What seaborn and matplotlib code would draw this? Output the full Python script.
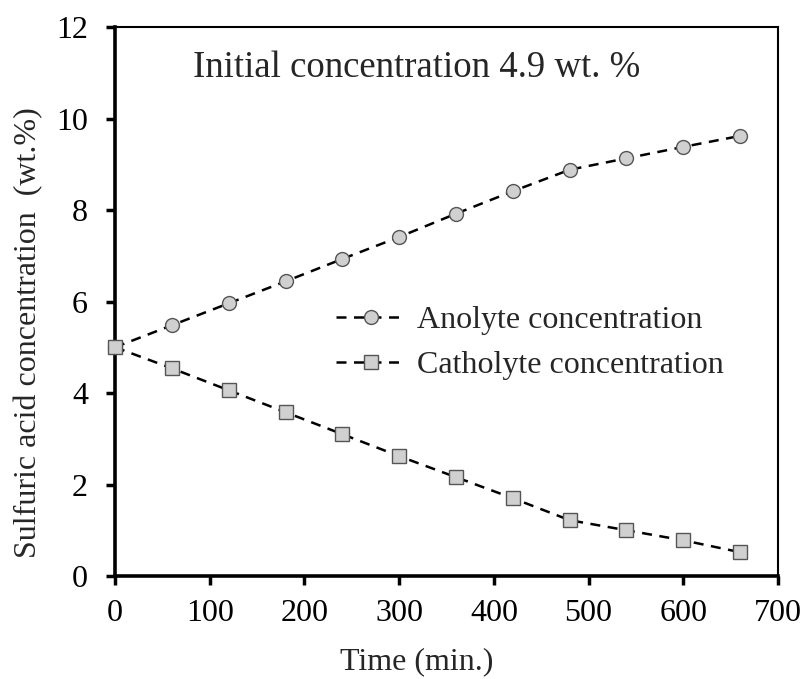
import matplotlib
matplotlib.use("Agg")
import matplotlib.pyplot as plt
import seaborn as sns
import pandas as pd

time_min = [0, 60, 120, 180, 240, 300, 360, 420, 480, 540, 600, 660]
anolyte = [5.0, 5.48, 5.96, 6.44, 6.93, 7.41, 7.92, 8.41, 8.88, 9.13, 9.38, 9.62]
catholyte = [5.0, 4.54, 4.06, 3.58, 3.10, 2.62, 2.16, 1.70, 1.22, 1.00, 0.78, 0.52]
series_names = ["Anolyte concentration", "Catholyte concentration"]
x_ticks = [0, 100, 200, 300, 400, 500, 600, 700]
y_ticks = [0, 2, 4, 6, 8, 10, 12]

sns.set_style("white")
plt.rcParams['font.family'] = ['Liberation Serif', 'DejaVu Serif']

fig = plt.figure(figsize=(8.06, 6.79), dpi=100)
ax = fig.add_axes([0.1427, 0.1517, 0.8226, 0.8085])

df = pd.DataFrame({
    "t": time_min * 2,
    "c": anolyte + catholyte,
    "s": [series_names[0]] * len(time_min) + [series_names[1]] * len(time_min),
})

markers = {series_names[0]: "o", series_names[1]: "s"}
for name in series_names:
    sub = df[df["s"] == name]
    sns.lineplot(data=sub, x="t", y="c", ax=ax, color="black", linewidth=1.8,
                 linestyle=(0, (4, 3)), marker=markers[name], markersize=10,
                 markerfacecolor="#d0d0d0", markeredgecolor="#555555",
                 markeredgewidth=1.0, label=name, clip_on=False, zorder=3)

ax.set_xlim(0, 700)
ax.set_ylim(0, 12)
ax.set_xticks(x_ticks)
ax.set_yticks(y_ticks)
ax.tick_params(axis="both", direction="out", length=6.5, width=2.5, labelsize=23,
               colors="black", left=True, bottom=True)
ax.tick_params(axis="x", pad=10)
ax.tick_params(axis="y", pad=13)
for side in ["left", "bottom"]:
    ax.spines[side].set_linewidth(2.6)
    ax.spines[side].set_color("black")
for side in ["top", "right"]:
    ax.spines[side].set_linewidth(1.5)
    ax.spines[side].set_color("black")

ax.set_xlabel("Time (min.)", fontsize=23)
ax.set_ylabel("Sulfuric acid concentration  (wt.%)", fontsize=23)
ax.xaxis.set_label_coords(0.455, -0.129)
ax.yaxis.set_label_coords(-0.109, 0.444)

ax.text(0.118, 0.925, "Initial concentration 4.9 wt. %", transform=ax.transAxes,
        fontsize=26.5, ha="left", va="center")

leg = ax.legend(loc="center left", bbox_to_anchor=(0.29, 0.425), frameon=False,
                fontsize=23, handlelength=2.2, handletextpad=0.35, labelspacing=0.5)

fig.savefig("out.png", dpi=100)
